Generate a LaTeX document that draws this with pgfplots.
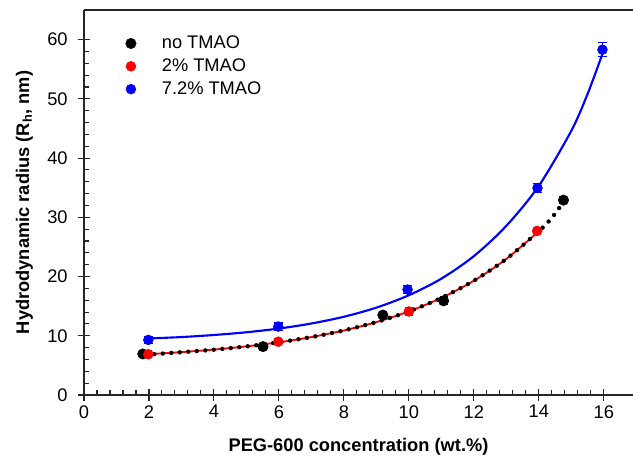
\documentclass[border=0pt]{standalone}
\usepackage{fontspec}
\setmainfont{Liberation Sans}
\usepackage{pgfplots}
\pgfplotsset{compat=1.18}

\definecolor{pegred}{RGB}{255,0,0}
\definecolor{pegblue}{RGB}{0,0,255}

\begin{document}
\begin{tikzpicture}
\fontsize{13.7}{16}\selectfont
\begin{axis}[
  at={(63pt,51.75pt)}, anchor=south west,
  scale only axis,
  width=411.75pt, height=288.75pt,
  xmin=0, xmax=16.9, ymin=0, ymax=65,
  axis y line*=left,
  axis line style={line width=0.9pt, black!85},
  xtick={0,2,...,16}, ytick={0,10,...,60},
  minor x tick num=4, minor y tick num=4,
  tick pos=left,
  tick align=inside,
  major tick length=4.5pt,
  minor tick length=3.5pt,
  extra x ticks={0,2,...,16}, extra x tick labels={},
  extra y ticks={0,10,...,60}, extra y tick labels={},
  extra tick style={tick align=outside, major tick length=4.5pt},
  tick style={line width=0.8pt, black!85},
  /pgf/number format/assume math mode=true,
  ticklabel style={font=\fontsize{13.7}{16}\selectfont},
  xticklabel style={yshift=-3pt},
  yticklabel style={xshift=-7.5pt},
  xlabel={\textbf{PEG-600 concentration (wt.\%)}},
  ylabel={\textbf{Hydrodynamic radius (R\textsubscript{h}, nm)}},
  label style={font=\fontsize{13.7}{16}\selectfont},
  xlabel style={yshift=-1pt},
  ylabel style={yshift=-3pt},
  legend style={draw=none, fill=none, at={(axis cs:1.1,61.6)}, anchor=north west,
    font=\fontsize{13.7}{16}\selectfont, row sep=1.5pt,
    /tikz/every even column/.append style={column sep=0pt}},
  legend cell align=left,
  legend image code/.code={\path[#1] plot coordinates {(5pt,0pt)};\path (0pt,0pt) (26pt,0pt);},
  error bars/y dir=both, error bars/y explicit,
]

% fitted curves
\addplot[pegblue, line width=1.6pt, smooth, forget plot] coordinates {
  (2,9.55) (3,9.78) (4,10.13) (5,10.59) (6,11.22) (7,12.07) (8,13.21)
  (9,14.75) (10,16.84) (11,19.64) (12,23.44) (13,28.56) (14,35.3)
  (15,44.6) (15.5,50.8) (16,58.2)};
\addplot[pegred, line width=1.4pt, smooth, forget plot] coordinates {
  (2,6.90) (3,7.24) (4,7.67) (5,8.21) (6,8.90) (7,9.78) (8,10.90)
  (9,12.31) (10,14.11) (11,16.39) (12,19.29) (13,22.97) (14,27.65)};

% measured radii
\addplot[only marks, mark=*, mark size=3.9pt, black,
  error bars/error mark options={rotate=90, mark size=3pt, line width=0.8pt},
  error bars/error bar style={line width=0.8pt}]
  coordinates {
  (1.81,6.93) +- (0,0.5)
  (5.51,8.17) +- (0,0.5)
  (9.20,13.5) +- (0,0.6)
  (11.07,15.9) +- (0,0.7)
  (14.76,32.9) +- (0,0.6)};
\addlegendentry{no TMAO}
\addplot[only marks, mark=*, mark size=3.7pt, pegred,
  error bars/error mark options={rotate=90, mark size=3pt, line width=0.8pt},
  error bars/error bar style={line width=0.8pt}]
  coordinates {
  (1.98,6.88) +- (0,0.5)
  (5.98,9.0) +- (0,0.5)
  (10.0,14.1) +- (0,0.6)
  (13.95,27.7) +- (0,0.5)};
\addlegendentry{2\% TMAO}
\addplot[only marks, mark=*, mark size=3.7pt, pegblue,
  error bars/error mark options={rotate=90, mark size=3.5pt, line width=0.8pt},
  error bars/error bar style={line width=0.8pt}]
  coordinates {
  (1.98,9.3) +- (0,0.6)
  (5.98,11.55) +- (0,0.6)
  (9.96,17.8) +- (0,0.7)
  (13.96,34.95) +- (0,0.7)
  (15.96,58.3) +- (0,1.2)};
\addlegendentry{7.2\% TMAO}

% fit to the samples without TMAO
\addplot[black, line width=3.3pt, line cap=round, dash pattern=on 0pt off 6.4pt,
  smooth, forget plot] coordinates {
  (1.9,6.80) (3,7.22) (4,7.65) (5,8.20) (6,8.90) (7,9.78) (8,10.90)
  (9,12.31) (10,14.11) (11,16.39) (12,19.29) (13,22.97) (14,27.65)
  (14.4,29.9) (14.76,32.6)};
\end{axis}
\pgfresetboundingbox
\path (0,0) rectangle (474.75pt,348pt);
\end{tikzpicture}
\end{document}
